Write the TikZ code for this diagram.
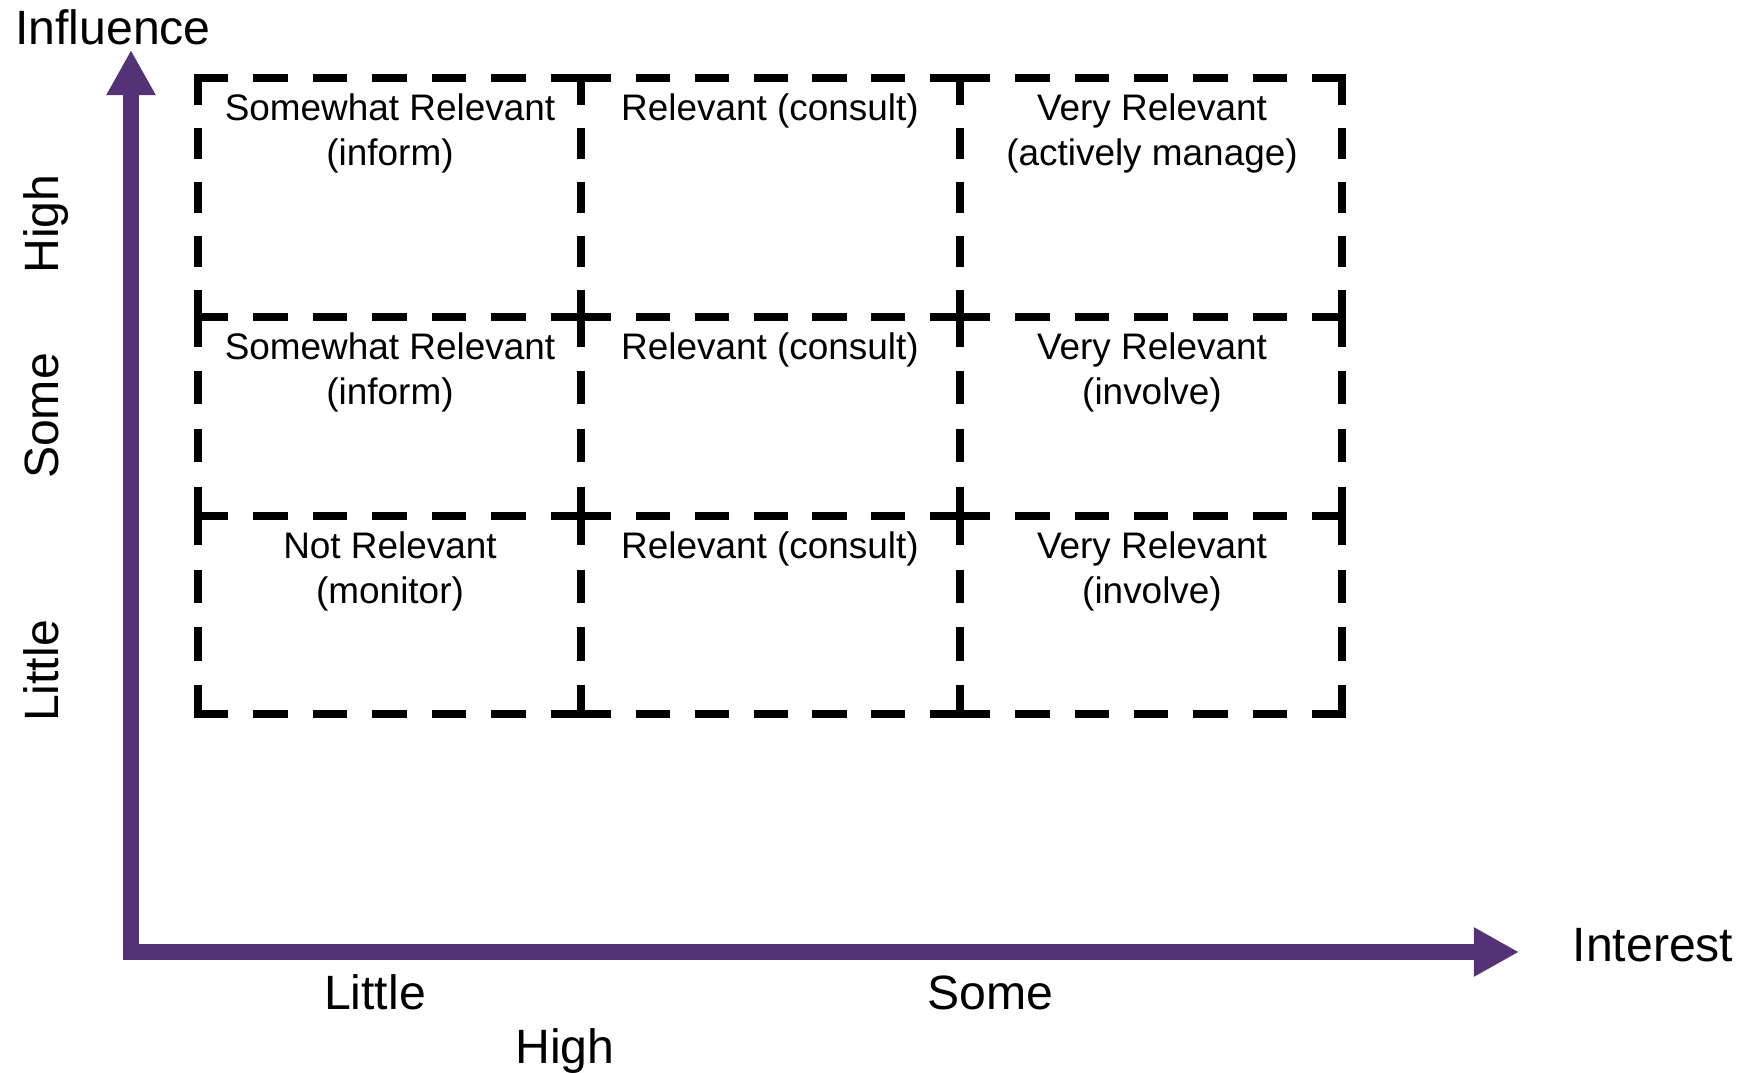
\documentclass[tikz,border=0pt]{standalone}
\usepackage{fontspec}
\setmainfont{Liberation Sans}
\usetikzlibrary{arrows.meta}
\definecolor{axispurple}{RGB}{84,50,118}
\tikzset{
  axisline/.style={axispurple, line width=4.55pt, line join=miter,
    {Triangle[length=4.5mm, width=4.6mm]}-{Triangle[length=4.5mm, width=4.6mm]}},
  celledge/.style={black, line width=2.28pt, shorten <=-1.14pt, shorten >=-1.14pt},
  celltext/.style={anchor=north, inner sep=0pt, align=center,
    font=\fontsize{10.5}{12.8}\selectfont},
  axislabel/.style={anchor=base, inner sep=0pt, font=\fontsize{13.7}{16}\selectfont},
  levellabel/.style={axislabel, rotate=90},
}
% one side of a cell, dashes fitted so both corners are solid
\newcommand{\dashside}[4]{%
  \pgfmathsetmacro{\sidelen}{abs(#3-#1)+abs(#4-#2)+8}%
  \pgfmathsetmacro{\ndash}{round((\sidelen+24)/58)}%
  \pgfmathsetmacro{\period}{\sidelen/(\ndash-0.42)}%
  \pgfmathsetmacro{\dashon}{0.58*\period*0.28453}%
  \pgfmathsetmacro{\dashoff}{0.42*\period*0.28453}%
  \draw[celledge, dash pattern=on \dashon pt off \dashoff pt] (#1,#2) -- (#3,#4);}
\newcommand{\cellbox}[4]{%
  \dashside{#1}{#2}{#3}{#2}\dashside{#1}{#4}{#3}{#4}%
  \dashside{#1}{#2}{#1}{#4}\dashside{#3}{#2}{#3}{#4}}

\begin{document}
\begin{tikzpicture}[x=0.01cm, y=0.01cm]
    \useasboundingbox (0,0) rectangle (1754,1072);
    % ---------------- axes ----------------
    \coordinate (origin) at (131,120);
    \coordinate (ytip) at (131,1022);
    \coordinate (xtip) at (1519,120);
    \draw[axisline] (ytip) -- (origin) -- (xtip);
    \node[axislabel] (influence) at (113,1027) {Influence};
    \node[axislabel] (interest) at (1653,111) {Interest};
    % level labels, interest
    \node[axislabel] (xlittle) at (375,63) {Little};
    \node[axislabel] (xsome) at (990,63) {Some};
    \node[axislabel] (xhigh) at (565,9) {High};
    % level labels, influence
    \node[levellabel] (yhigh) at (58,848) {High};
    \node[levellabel] (ysome) at (58,656) {Some};
    \node[levellabel] (ylittle) at (58,401) {Little};
    % ---------------- grid of cells ----------------
    \foreach \xa/\xb in {198/581, 581/960, 960/1342}
      \foreach \ya/\yb in {994/755, 755/556, 556/358}
        {\cellbox{\xa}{\ya}{\xb}{\yb}}
    % high influence
    \node[celltext] (hiLittle) at (390,979) {Somewhat Relevant\\(inform)};
    \node[celltext] (hiSome) at (770,979) {Relevant (consult)};
    \node[celltext] (hiHigh) at (1152,979) {Very Relevant\\(actively manage)};
    % some influence
    \node[celltext] (soLittle) at (390,740) {Somewhat Relevant\\(inform)};
    \node[celltext] (soSome) at (770,740) {Relevant (consult)};
    \node[celltext] (soHigh) at (1152,740) {Very Relevant\\(involve)};
    % little influence
    \node[celltext] (liLittle) at (390,541) {Not Relevant\\(monitor)};
    \node[celltext] (liSome) at (770,541) {Relevant (consult)};
    \node[celltext] (liHigh) at (1152,541) {Very Relevant\\(involve)};
\end{tikzpicture}
\end{document}
